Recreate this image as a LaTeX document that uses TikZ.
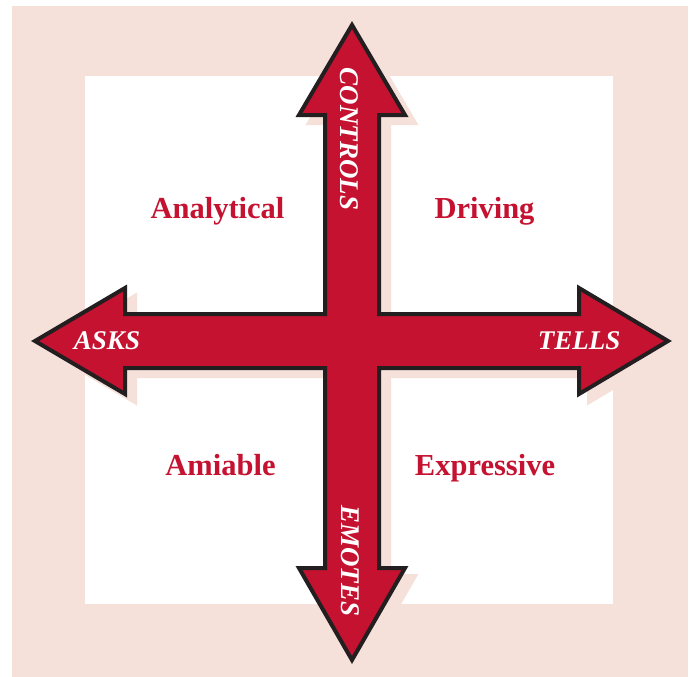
\documentclass[tikz,border=0pt]{standalone}
\usepackage{fontspec}
\setmainfont{Liberation Serif}
\definecolor{axred}{HTML}{C41230}
\definecolor{axpink}{HTML}{F5E1DA}
\definecolor{axdark}{HTML}{231F20}
\begin{document}
\begin{tikzpicture}[x=1pt,y=-1pt,
  quadlabel/.style={text=axred,font=\fontsize{30.5}{30.5}\selectfont\bfseries,anchor=base,inner sep=0pt},
  axislabel/.style={text=white,font=\fontsize{27}{27}\selectfont\bfseries\itshape,inner sep=0pt},
  crossshape/.style={line width=4pt,miter limit=4}]
\useasboundingbox (0,0) rectangle (691,677);
\fill[axpink] (12,6) rectangle (688,677);
\fill[white] (85,76) rectangle (613,604);
\def\crosspath{(352,25) -- (405,115) -- (379,115) -- (379,314) -- (579,314) -- (579,288) -- (668,341) -- (579,394) -- (579,368) -- (379,368) -- (379,568) -- (405,568) -- (352,660) -- (299,568) -- (325,568) -- (325,368) -- (125,368) -- (125,394) -- (35,341) -- (125,288) -- (125,314) -- (325,314) -- (325,115) -- (299,115) -- cycle}
\begin{scope}[shift={(10,8)}]
\filldraw[axpink,crossshape] \crosspath;
\end{scope}
\filldraw[fill=axred,draw=axdark,crossshape] \crosspath;
\node[quadlabel] (analytical) at (217.5,218) {Analytical};
\node[quadlabel] (driving) at (484.5,218) {Driving};
\node[quadlabel] (amiable) at (220.5,475) {Amiable};
\node[quadlabel] (expressive) at (485,475) {Expressive};
\node[axislabel] (asks) at (107,341) {ASKS};
\node[axislabel] (tells) at (579,341) {TELLS};
\node[axislabel,rotate=-90] (controls) at (349,139) {CONTROLS};
\node[axislabel,rotate=-90] (emotes) at (350,561) {EMOTES};
\end{tikzpicture}
\end{document}
